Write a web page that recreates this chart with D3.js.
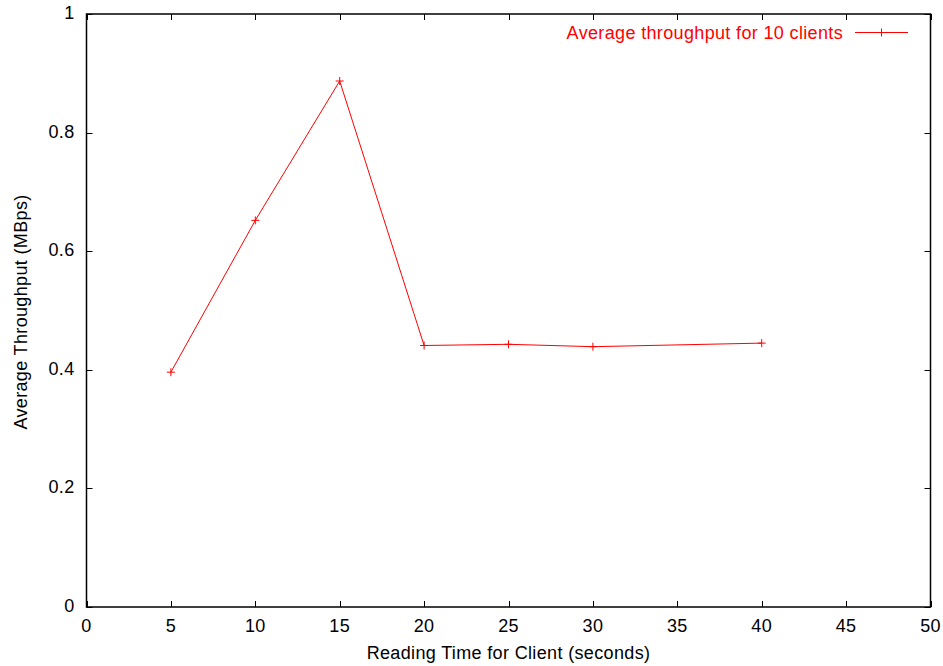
<!DOCTYPE html>
<html><head><meta charset="utf-8">
<script src="https://cdn.jsdelivr.net/npm/d3@7"></script>
<style>body{margin:0;background:#fff}text{font-family:"Liberation Sans",Arial,sans-serif;letter-spacing:0.35px}</style>
</head><body><svg id="c" width="943" height="666"></svg>
<script>
const xValues = [5, 10, 15, 20, 25, 30, 40];
const throughput = [0.396, 0.652, 0.887, 0.441, 0.443, 0.439, 0.445];
const xTicks = [0,5,10,15,20,25,30,35,40,45,50];
const yTicks = [0,0.2,0.4,0.6,0.8,1];
const seriesName = "Average throughput for 10 clients";
const xTitle = "Reading Time for Client (seconds)";
const yTitle = "Average Throughput (MBps)";

const svg = d3.select("#c");
const L=86.5, R=930.5, T=14, B=607;
const x = d3.scaleLinear().domain([0,50]).range([L,R]);
const y = d3.scaleLinear().domain([0,1]).range([B,T]);
const fs = 18, tl = 6;

// ticks
const g = svg.append("g").attr("stroke","#000").attr("stroke-width",1);
xTicks.forEach(v=>{
  const px=Math.round(x(v))+0.5;
  g.append("line").attr("x1",px).attr("x2",px).attr("y1",B).attr("y2",B-tl);
  g.append("line").attr("x1",px).attr("x2",px).attr("y1",T).attr("y2",T+tl);
});
yTicks.forEach(v=>{
  const py=Math.round(y(v))+0.5;
  g.append("line").attr("x1",L).attr("x2",L+tl).attr("y1",py).attr("y2",py);
  g.append("line").attr("x1",R).attr("x2",R-tl).attr("y1",py).attr("y2",py);
});
svg.append("rect").attr("x",L).attr("y",T).attr("width",R-L).attr("height",B-T)
  .attr("fill","none").attr("stroke","#000").attr("stroke-width",1.5);

// tick labels
xTicks.forEach(v=>svg.append("text").attr("x",x(v)).attr("y",B+25).attr("text-anchor","middle")
  .attr("font-size",fs).text(d3.format("")(v)));
yTicks.forEach(v=>svg.append("text").attr("x",L-12).attr("y",y(v)+5).attr("text-anchor","end")
  .attr("font-size",fs).text(d3.format("")(v)));

svg.append("text").attr("x",(L+R)/2).attr("y",659).attr("text-anchor","middle").attr("font-size",fs).text(xTitle);
svg.append("text").attr("transform",`translate(27,312) rotate(-90)`).attr("text-anchor","middle").attr("font-size",fs).text(yTitle);

// series
const data = xValues.map((d,i)=>({x:d,y:throughput[i]}));
svg.append("path").datum(data).attr("fill","none").attr("stroke","#ff0000").attr("stroke-width",1)
  .attr("d",d3.line().x(d=>x(d.x)).y(d=>y(d.y)));
const m=4;
const mk = svg.append("g").attr("stroke","#ff0000").attr("stroke-width",1);
data.forEach(d=>{
  const px=x(d.x), py=y(d.y);
  mk.append("line").attr("x1",px-m).attr("x2",px+m).attr("y1",py).attr("y2",py);
  mk.append("line").attr("x1",px).attr("x2",px).attr("y1",py-m).attr("y2",py+m);
});

// legend
svg.append("text").attr("x",843).attr("y",38.5).attr("text-anchor","end").attr("font-size",fs)
  .attr("fill","#ff0000").text(seriesName);
svg.append("line").attr("x1",855).attr("x2",908).attr("y1",32.5).attr("y2",32.5).attr("stroke","#ff0000");
svg.append("line").attr("x1",877.5).attr("x2",885.5).attr("y1",32.5).attr("y2",32.5).attr("stroke","#ff0000");
svg.append("line").attr("x1",881.5).attr("x2",881.5).attr("y1",28.5).attr("y2",36.5).attr("stroke","#ff0000");
</script></body></html>
